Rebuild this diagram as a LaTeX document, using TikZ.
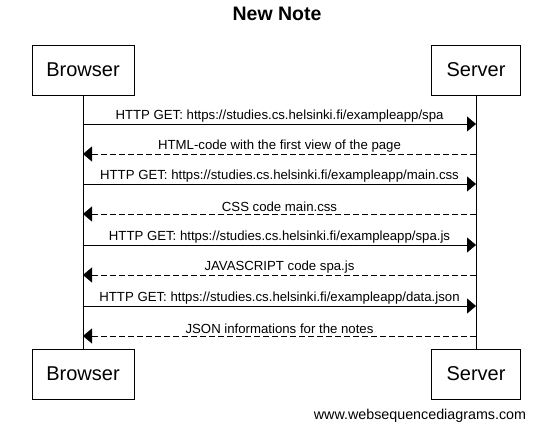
\documentclass[tikz,border=0pt]{standalone}
\usepackage{fontspec}
\setmainfont{Liberation Sans}
\usetikzlibrary{arrows.meta}

\begin{document}
\begin{tikzpicture}[x=1pt,y=-1pt]
    \useasboundingbox (0,0) rectangle (548,443);

    \node[font=\bfseries\fontsize{19.5}{22}\selectfont] (title) at (277,14) {New Note};

    \begin{scope}[every node/.style={draw,thick,minimum height=50pt,inner sep=0pt,font=\fontsize{20}{22}\selectfont}]
        \node[minimum width=102pt] (browser) at (83,70) {Browser};
        \node[minimum width=89pt] (server) at (476,70) {Server};
        \node[minimum width=102pt] (browser2) at (83,374) {Browser};
        \node[minimum width=89pt] (server2) at (476,374) {Server};
    \end{scope}

    % lifelines
    \draw (browser.south) -- (browser2.north);
    \draw (server.south) -- (server2.north);

    \foreach \i/\y in {1/124,2/154,3/184,4/214,5/245,6/275,7/306,8/336} {
        \coordinate (b\i) at (83,\y);
        \coordinate (s\i) at (476,\y);
    }

    \begin{scope}[every node/.style={above,inner sep=2pt,font=\fontsize{13.2}{15}\selectfont},
                  every edge/.style={draw,-{Triangle[length=9pt,width=15pt]}}]
        \path
            (b1) edge node {HTTP GET: https://studies.cs.helsinki.fi/exampleapp/spa} (s1)
            (b3) edge node {HTTP GET: https://studies.cs.helsinki.fi/exampleapp/main.css} (s3)
            (b5) edge node {HTTP GET: https://studies.cs.helsinki.fi/exampleapp/spa.js} (s5)
            (b7) edge node {HTTP GET: https://studies.cs.helsinki.fi/exampleapp/data.json} (s7);
    \end{scope}
    \begin{scope}[every node/.style={above,inner sep=2pt,font=\fontsize{13.2}{15}\selectfont},
                  every edge/.style={draw,dash pattern=on 6pt off 3pt,-{Triangle[length=9pt,width=15pt]}}]
        \path
            (s2) edge node {HTML-code with the first view of the page} (b2)
            (s4) edge node {CSS code main.css} (b4)
            (s6) edge node {JAVASCRIPT code spa.js} (b6)
            (s8) edge node {JSON informations for the notes} (b8);
    \end{scope}

    \node[font=\fontsize{14.3}{16}\selectfont] (footer) at (420,416) {www.websequencediagrams.com};
\end{tikzpicture}
\end{document}
